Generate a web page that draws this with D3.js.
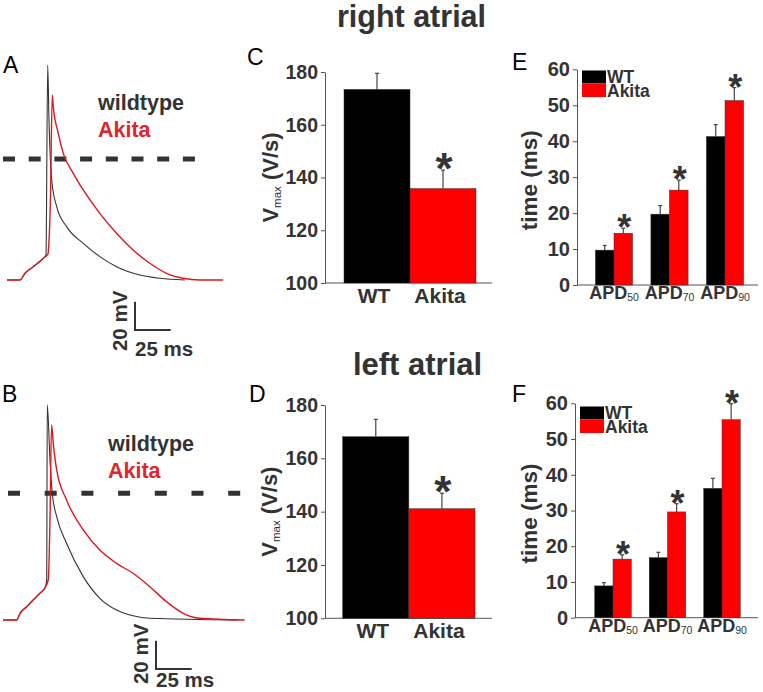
<!DOCTYPE html>
<html><head><meta charset="utf-8">
<script src="https://cdn.jsdelivr.net/npm/d3@7"></script>
<style>body{margin:0;background:#fff} svg{display:block} text{font-family:"Liberation Sans",Arial,Helvetica,sans-serif}</style>
</head><body><svg id="c" width="763" height="692"></svg>
<script>
// ---------------- DATA ----------------
// Action potential traces (time in ms, membrane potential in mV)
const raTimeWT  = [0, 9.1, 12.6, 18.4, 25.4, 27.3, 28.5, 29.4, 31.3, 34.8, 41.7, 53.4, 65.0, 76.7, 93.0, 107.0, 124.5];
const raVoltWT  = [-85.5, -85.5, -80.8, -76.1, -70.2, -67.8, 66.4, 27.6, -14.8, -33.7, -47.8, -59.6, -69.0, -76.1, -82.0, -84.3, -85.5];
const raTimeAk  = [0, 9.1, 12.6, 18.4, 25.4, 28.7, 29.0, 30.4, 31.7, 32.4, 35.9, 39.4, 46.4, 53.4, 65.0, 76.7, 88.3, 100.0, 111.7, 123.3, 135.0, 151.3];
const raVoltAk  = [-85.5, -85.5, -80.8, -76.1, -70.2, -67.1, -64.3, -29.0, 45.2, 37.0, 18.2, 4.0, -10.1, -21.9, -38.4, -52.5, -64.3, -73.7, -80.8, -84.3, -85.5, -85.5];
const laTimeWT  = [0, 9.6, 11.9, 16.6, 21.2, 25.9, 29.4, 30.6, 31.0, 32.9, 34.5, 37.6, 44.5, 56.2, 67.8, 79.5, 91.1, 102.8, 164.5];
const laVoltWT  = [-89.5, -89.5, -84.8, -80.1, -75.3, -70.6, -66.8, -61.3, 62.5, 23.5, 0, -16.5, -35.3, -58.9, -74.2, -82.5, -86.6, -88.3, -89.5];
const laTimeAk  = [0, 9.6, 11.9, 16.6, 21.2, 25.9, 29.4, 31.7, 32.9, 34.0, 35.2, 37.6, 44.5, 56.2, 67.8, 79.5, 91.1, 102.8, 114.5, 126.1, 137.8, 169.2];
const laVoltAk  = [-89.5, -89.5, -84.8, -80.1, -75.3, -70.6, -66.8, -61.1, -18.8, 48.3, 35.3, 16.5, -4.7, -25.9, -40.1, -49.5, -56.5, -66.0, -76.6, -84.8, -88.3, -89.5];
const scaleBarMV = 20, scaleBarMS = 25;

// Vmax bars
const vmaxGroups  = ["WT", "Akita"];
const vmaxRight   = [173.4, 135.8];
const vmaxRightErr= [6.1, 7.0];
const vmaxLeft    = [168.1, 141.1];
const vmaxLeftErr = [6.5, 5.8];
const vmaxTicks   = [100, 120, 140, 160, 180];
const vmaxSig     = [false, true];

// APD bars
const apdGroups   = ["50", "70", "90"];
const apdSeries   = ["WT", "Akita"];
const apdRightWT     = [9.7, 19.7, 41.3];
const apdRightWTErr  = [1.3, 2.4, 3.3];
const apdRightAk     = [14.4, 26.4, 51.3];
const apdRightAkErr  = [1.4, 2.8, 3.6];
const apdLeftWT      = [8.9, 16.8, 36.2];
const apdLeftWTErr   = [0.9, 1.5, 2.8];
const apdLeftAk      = [16.4, 29.6, 55.4];
const apdLeftAkErr   = [1.2, 2.3, 4.5];
const apdTicks       = [0, 10, 20, 30, 40, 50, 60];

// ---------------- DRAW ----------------
const TXT = "#333";
const RED = "#ff0000";
const TRACE_RED = "#e3161d";
const svg = d3.select("#c");
svg.append("rect").attr("width", 763).attr("height", 692).attr("fill", "#fff");

function txt(x, y, s, size, opts = {}) {
  return svg.append("text").attr("x", x).attr("y", y).text(s)
    .attr("font-size", size).attr("font-weight", opts.bold ? "bold" : "normal")
    .attr("fill", opts.fill || TXT).attr("text-anchor", opts.anchor || "start");
}

// titles
txt(411.5, 27, "right atrial", 30.5, {bold: true, anchor: "middle"});
txt(417.5, 375, "left atrial", 31, {bold: true, anchor: "middle"});

// panel letters
[["A", 3, 73], ["B", 2, 402], ["C", 247, 65], ["D", 249, 402], ["E", 512, 70], ["F", 512, 402]]
  .forEach(([l, x, y]) => txt(x, y, l, 23, {fill: "#000"}));

// ---- traces ----
function tracePanel(cfg) {
  const x = d3.scaleLinear().domain([0, 25]).range([cfg.x0, cfg.x0 + 35.7]);
  const y = d3.scaleLinear().domain([0, 20]).range([cfg.y0, cfg.y0 - 28.3]);
  const g = svg.append("g");
  g.append("line").attr("x1", cfg.dash[0]).attr("x2", cfg.dash[1])
    .attr("y1", y(0)).attr("y2", y(0))
    .attr("stroke", "#333").attr("stroke-width", 5).attr("stroke-dasharray", cfg.dashArray);
  const line = d3.line().x(d => x(d[0])).y(d => y(d[1])).curve(d3.curveMonotoneX);
  g.append("path").attr("d", line(d3.zip(cfg.tw, cfg.vw)))
    .attr("fill", "none").attr("stroke", "#333").attr("stroke-width", 1.1);
  g.append("path").attr("d", line(d3.zip(cfg.ta, cfg.va)))
    .attr("fill", "none").attr("stroke", TRACE_RED).attr("stroke-width", 1.4);
  // legend
  txt(cfg.leg[0], cfg.leg[1], "wildtype", 21.5, {bold: true});
  txt(cfg.leg[0], cfg.leg[2], "Akita", 21.5, {bold: true, fill: "#e2242b"});
  // scale bar
  const bx = cfg.bar[0], by = cfg.bar[1];
  const hLen = x(scaleBarMS) - x(0), vLen = y(0) - y(scaleBarMV);
  g.append("path").attr("d", `M${bx},${by - vLen}V${by}H${bx + hLen}`)
    .attr("fill", "none").attr("stroke", "#333").attr("stroke-width", 2);
  svg.append("text").attr("transform", `translate(${bx - 8},${by - vLen / 2 + cfg.mvShift}) rotate(-90)`)
    .attr("text-anchor", "middle").attr("font-size", 20.5).attr("font-weight", "bold").attr("fill", TXT)
    .text(scaleBarMV + " mV");
  txt(bx, cfg.msY, scaleBarMS + " ms", 20.5, {bold: true});
}

tracePanel({x0: 7, y0: 159, tw: raTimeWT, vw: raVoltWT, ta: raTimeAk, va: raVoltAk,
  dash: [3, 197], dashArray: "12,13.7", leg: [98, 110, 136.7], bar: [135, 330], mvShift: 5, msY: 356});
tracePanel({x0: 3, y0: 493.3, tw: laTimeWT, vw: laVoltWT, ta: laTimeAk, va: laVoltAk,
  dash: [8, 242], dashArray: "12,24.7", leg: [108, 450.7, 478], bar: [156, 669], mvShift: -1, msY: 687});

// ---- Vmax panels ----
function vmaxPanel(cfg) {
  const y = d3.scaleLinear().domain([100, 180]).range([cfg.yb, cfg.yt]);
  const x = d3.scaleBand().domain(vmaxGroups).range(cfg.band).padding(0);
  const g = svg.append("g");
  const ax = g.append("g").attr("transform", `translate(${cfg.ax},0)`)
    .call(d3.axisLeft(y).tickValues(vmaxTicks).tickSize(4).tickSizeOuter(0).tickPadding(3));
  ax.selectAll("path,line").attr("stroke", "#555");
  ax.selectAll("text").attr("font-size", 19.5).attr("font-weight", "bold").attr("fill", TXT)
    .attr("font-family", "Liberation Sans, Arial, sans-serif");
  g.append("line").attr("x1", cfg.ax).attr("x2", cfg.axEnd).attr("y1", y(100)).attr("y2", y(100))
    .attr("stroke", "#555");
  // error bars
  vmaxGroups.forEach((k, i) => {
    const cx = x(k) + x.bandwidth() / 2;
    g.append("line").attr("x1", cx).attr("x2", cx).attr("y1", y(cfg.v[i])).attr("y2", y(cfg.v[i] + cfg.e[i]))
      .attr("stroke", "#444").attr("stroke-width", 1.2);
    g.append("line").attr("x1", cx - 2).attr("x2", cx + 2).attr("y1", y(cfg.v[i] + cfg.e[i])).attr("y2", y(cfg.v[i] + cfg.e[i]))
      .attr("stroke", "#444").attr("stroke-width", 1.2);
    if (vmaxSig[i]) {
      g.append("text").attr("x", cx + 1).attr("y", y(cfg.v[i] + cfg.e[i]) + 14)
        .attr("text-anchor", "middle").attr("font-size", 44).attr("font-weight", "bold").attr("fill", TXT).text("*");
    }
  });
  g.selectAll("rect.bar").data(vmaxGroups).join("rect")
    .attr("x", d => x(d)).attr("width", x.bandwidth())
    .attr("y", (d, i) => y(cfg.v[i])).attr("height", (d, i) => y(100) - y(cfg.v[i]))
    .attr("fill", (d, i) => i === 0 ? "#000" : RED).attr("stroke", "#333").attr("stroke-width", 0.5);
  // x labels
  vmaxGroups.forEach(k => {
    g.append("text").attr("x", x(k) + x.bandwidth() / 2 - 3).attr("y", y(100) + 20)
      .attr("text-anchor", "middle").attr("font-size", 21).attr("font-weight", "bold").attr("fill", TXT).text(k);
  });
  // y label
  const yl = g.append("text").attr("transform", `translate(${cfg.ylx},${(cfg.yt + cfg.yb) / 2}) rotate(-90)`)
    .attr("text-anchor", "middle").attr("font-weight", "bold").attr("fill", TXT).attr("font-size", 22);
  yl.append("tspan").text("V");
  yl.append("tspan").attr("font-size", 11.5).attr("font-weight", "normal").attr("dy", 3).text("max");
  yl.append("tspan").attr("dy", -3).text(" (V/s)");
}
vmaxPanel({yb: 283, yt: 72, band: [344, 476], ax: 325, axEnd: 492, v: vmaxRight, e: vmaxRightErr, ylx: 278});
vmaxPanel({yb: 618.3, yt: 405, band: [342.7, 475], ax: 325, axEnd: 492, v: vmaxLeft, e: vmaxLeftErr, ylx: 277});

// ---- APD panels ----
function apdPanel(cfg) {
  const y = d3.scaleLinear().domain([0, 60]).range([cfg.yb, cfg.yt]);
  const x0 = d3.scaleBand().domain(apdGroups).range(cfg.band).paddingInner(0.33).paddingOuter(0.165);
  const x1 = d3.scaleBand().domain(apdSeries).range([0, x0.bandwidth()]).padding(0);
  const g = svg.append("g");
  const ax = g.append("g").attr("transform", `translate(${cfg.ax},0)`)
    .call(d3.axisLeft(y).tickValues(apdTicks).tickSize(4).tickSizeOuter(0).tickPadding(3));
  ax.selectAll("path,line").attr("stroke", "#555");
  ax.selectAll("text").attr("font-size", 20).attr("font-weight", "bold").attr("fill", TXT)
    .attr("font-family", "Liberation Sans, Arial, sans-serif");
  g.append("line").attr("x1", cfg.ax).attr("x2", cfg.axEnd).attr("y1", y(0)).attr("y2", y(0)).attr("stroke", "#555");
  const series = [[cfg.wt, cfg.wte, "#000"], [cfg.ak, cfg.ake, RED]];
  series.forEach(([vals, errs, col], si) => {
    apdGroups.forEach((grp, gi) => {
      const bx = x0(grp) + x1(apdSeries[si]);
      const cx = bx + x1.bandwidth() / 2;
      const top = y(vals[gi] + errs[gi]);
      g.append("line").attr("x1", cx).attr("x2", cx).attr("y1", y(vals[gi])).attr("y2", top)
        .attr("stroke", "#444").attr("stroke-width", 1.2);
      g.append("line").attr("x1", cx - 2).attr("x2", cx + 2).attr("y1", top).attr("y2", top)
        .attr("stroke", "#444").attr("stroke-width", 1.2);
      g.append("rect").attr("x", bx).attr("width", x1.bandwidth())
        .attr("y", y(vals[gi])).attr("height", y(0) - y(vals[gi]))
        .attr("fill", col).attr("stroke", "#333").attr("stroke-width", 0.5);
      if (si === 1) {
        g.append("text").attr("x", cx + 1).attr("y", top + 12)
          .attr("text-anchor", "middle").attr("font-size", 36).attr("font-weight", "bold").attr("fill", TXT).text("*");
      }
    });
  });
  apdGroups.forEach(grp => {
    const t = g.append("text").attr("x", x0(grp) + x0.bandwidth() / 2).attr("y", y(0) + 14)
      .attr("text-anchor", "middle").attr("font-size", 18).attr("font-weight", "bold").attr("fill", TXT);
    t.append("tspan").text("APD");
    t.append("tspan").attr("font-size", 10.5).attr("font-weight", "normal").attr("dy", 2).text(grp);
  });
  // legend
  const L = cfg.leg;
  g.append("rect").attr("x", L[0]).attr("y", L[1]).attr("width", 24).attr("height", 13).attr("fill", "#000");
  g.append("rect").attr("x", L[0]).attr("y", L[1] + 13).attr("width", 24).attr("height", 13.5).attr("fill", RED);
  g.append("text").attr("x", L[0] + 25).attr("y", L[1] + 12).attr("font-size", 17.5).attr("font-weight", "bold").attr("fill", TXT).text(apdSeries[0]);
  g.append("text").attr("x", L[0] + 25).attr("y", L[1] + 26.5).attr("font-size", 17.5).attr("font-weight", "bold").attr("fill", TXT).text(apdSeries[1]);
  // y label
  g.append("text").attr("transform", `translate(${cfg.ylx},${(cfg.yt + cfg.yb) / 2 + 3}) rotate(-90)`)
    .attr("text-anchor", "middle").attr("font-weight", "bold").attr("fill", TXT).attr("font-size", 22.5).text("time (ms)");
}
apdPanel({yb: 285, yt: 69.3, band: [586.25, 752.75], ax: 577, axEnd: 758,
  wt: apdRightWT, wte: apdRightWTErr, ak: apdRightAk, ake: apdRightAkErr, leg: [582, 70.5], ylx: 537});
apdPanel({yb: 617.7, yt: 403.3, band: [585.75, 749.25], ax: 575, axEnd: 758,
  wt: apdLeftWT, wte: apdLeftWTErr, ak: apdLeftAk, ake: apdLeftAkErr, leg: [580, 406.5], ylx: 537});
</script></body></html>
